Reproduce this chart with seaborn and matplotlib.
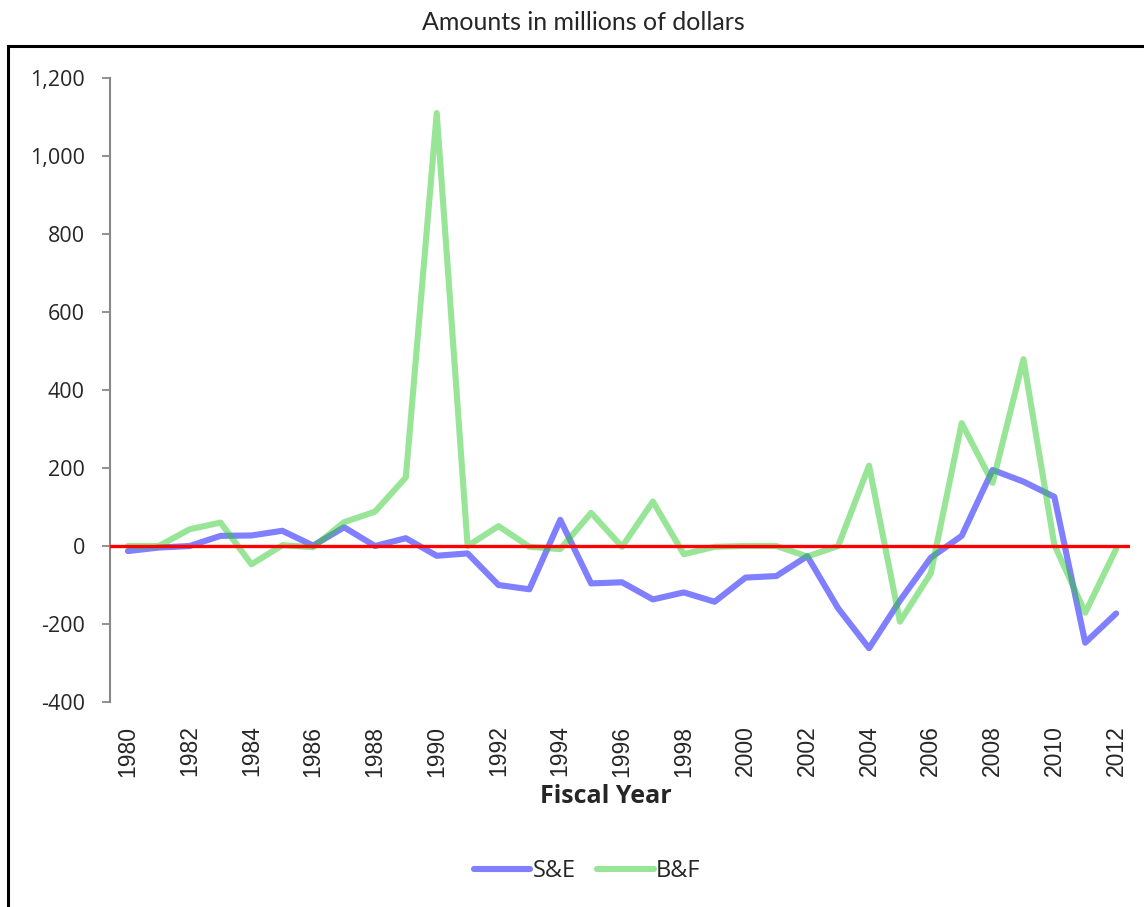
import matplotlib
matplotlib.use("Agg")
import matplotlib.pyplot as plt
import seaborn as sns
import pandas as pd
from matplotlib.patches import Rectangle
from matplotlib.lines import Line2D
from matplotlib.ticker import FuncFormatter

years = list(range(1980, 2013))
se_values = [-13, -4, 0, 26, 27, 39, 1, 48, 0, 20, -25, -19, -100, -111, 67, -96, -93,
             -137, -119, -143, -81, -77, -26, -160, -262, -140, -30, 26, 195, 165, 126, -248, -173]
bf_values = [0, 0, 43, 60, -47, 2, -3, 61, 88, 176, 1110, 0, 51, -2, -8, 85, -2,
             114, -21, -2, 0, 0, -27, 0, 206, -194, -70, 315, 162, 479, 3, -171, -8]
series_names = ["S&E", "B&F"]
y_ticks = [-400, -200, 0, 200, 400, 600, 800, 1000, 1200]
x_ticks = list(range(1980, 2013, 2))

df = pd.DataFrame({
    "Year": years * 2,
    "Value": se_values + bf_values,
    "Series": [series_names[0]] * len(years) + [series_names[1]] * len(years),
})

sns.set_theme(style="white")
plt.rcParams['font.family'] = ['Lato', 'DejaVu Sans']

fig = plt.figure(figsize=(11.44, 9.07), dpi=100)
ax = fig.add_axes([110 / 1144, 1 - 702 / 907, (1130 - 110) / 1144, (702 - 78) / 907])

palette = {"S&E": (0.0, 0.0, 1.0), "B&F": (0.2, 0.8, 0.2)}
sns.lineplot(data=df, x="Year", y="Value", hue="Series", palette=palette,
             linewidth=4.4, alpha=0.5, ax=ax, legend=False, zorder=2)
ax.axhline(0, color="#ff0000", linewidth=2.4, zorder=3)

ax.set_xlim(1979.42, 2012.45)
ax.set_ylim(-400, 1200)
ax.set_yticks(y_ticks)
ax.yaxis.set_major_formatter(FuncFormatter(lambda v, p: f"{int(v):,}"))
ax.set_xticks(x_ticks)
ax.set_xticklabels([str(x) for x in x_ticks], rotation=90,
                   fontfamily="Liberation Sans", fontsize=16.5)
for lbl in ax.get_yticklabels():
    lbl.set_fontsize(15.5)
    lbl.set_fontfamily("Open Sans")

for s in ["top", "right", "bottom"]:
    ax.spines[s].set_visible(False)
ax.spines["left"].set_color("#888888")
ax.spines["left"].set_linewidth(1.5)
ax.tick_params(axis="y", which="major", direction="out", length=6, width=1.3,
               color="#888888", pad=12, left=True)
ax.tick_params(axis="x", which="major", length=0, pad=17)
ax.grid(False)

ax.set_xlabel("Fiscal Year", fontsize=18, fontweight="bold", fontfamily="Open Sans")
ax.xaxis.set_label_coords((606 - 110) / 1020, -(784 - 702) / 624)
ax.set_ylabel("")

fig.text(583 / 1144, 1 - 22 / 907, "Amounts in millions of dollars", ha="center", va="center",
         fontsize=18, fontfamily="Lato")

# outer frame
rect = Rectangle((8 / 1144, -0.1), 1.2, (1 - 46 / 907) + 0.1, transform=fig.transFigure,
                 fill=False, edgecolor="black", linewidth=2.2, clip_on=False)
fig.patches.append(rect)

handles = [Line2D([], [], color=palette[n], linewidth=4.4, alpha=0.5) for n in series_names]
fig.legend(handles, series_names, loc="center", bbox_to_anchor=(587 / 1144, 1 - 871 / 907),
           ncol=2, frameon=False, handlelength=2.4, handletextpad=0.1,
           columnspacing=0.9, prop={"family": "Open Sans", "size": 17})

fig.savefig("out.png", dpi=100)
